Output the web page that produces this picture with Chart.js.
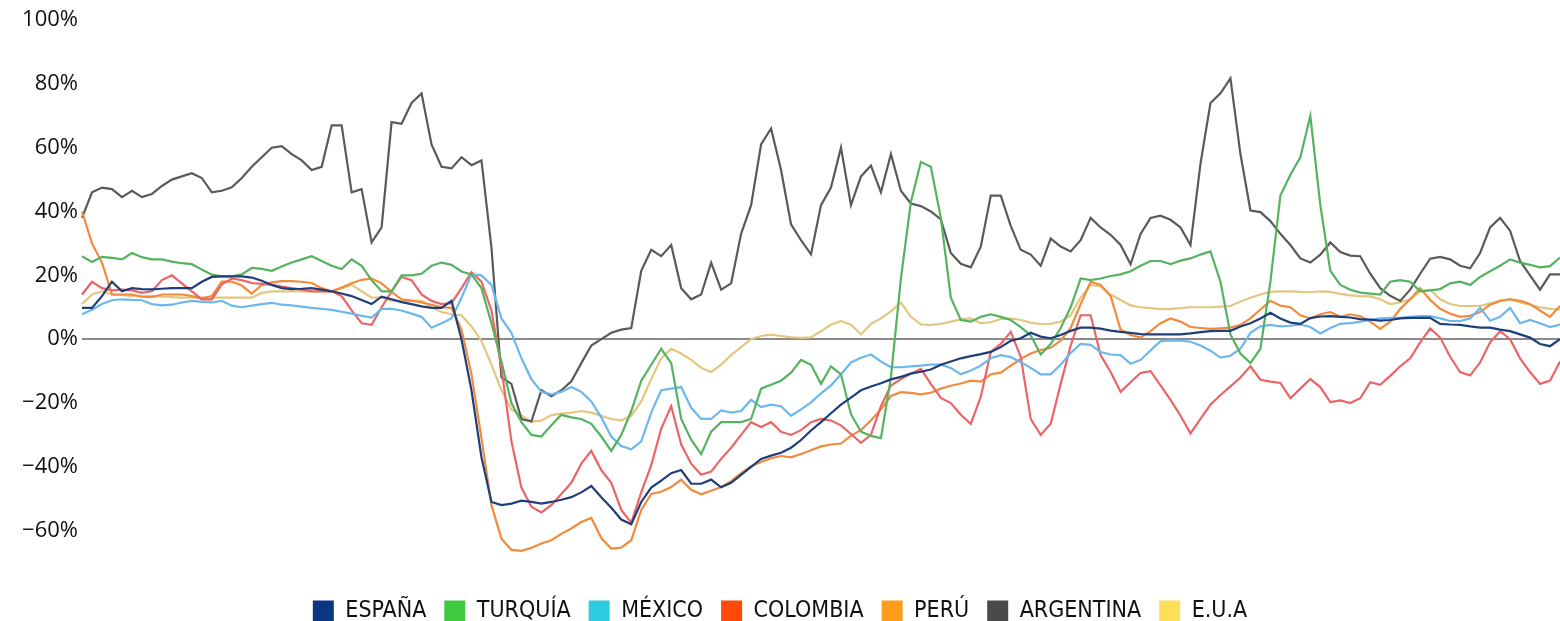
<!DOCTYPE html>
<html>
<head>
<meta charset="utf-8">
<script src="https://cdn.jsdelivr.net/npm/chart.js@4/dist/chart.umd.min.js"></script>
<style>
  body { margin: 0; background: #fff; overflow: hidden; }
  #wrap { width: 1560px; height: 633px; position: relative; }
</style>
</head>
<body>
<div id="wrap"><canvas id="chart"></canvas></div>
<script>
// series names, in legend order
const countries = ['ESPAÑA', 'TURQUÍA', 'MÉXICO', 'COLOMBIA', 'PERÚ', 'ARGENTINA', 'E.U.A'];

// y axis tick values (%)
const yTicks = [-60, -40, -20, 0, 20, 40, 60, 80, 100];

// values, one point per ~10px step
const espana = [
  9.8, 9.8, 13.5, 18, 15, 16, 15.7, 15.6, 15.8, 16,
  16, 16, 18, 19.5, 19.7, 19.7, 19.7, 19.3, 18.3, 17,
  16, 15.7, 15.8, 16, 15.5, 15, 14.3, 13.5, 12.3, 11,
  13.3, 12.5, 11.6, 11, 10.3, 9.8, 9.8, 12, 0, -16,
  -37, -51, -52, -51.5, -50.6, -51, -51.5, -51, -50.3, -49.5,
  -48, -46, -49.5, -52.8, -56.5, -58, -51, -46.5, -44.3, -42,
  -41, -45.3, -45.3, -44, -46.4, -45, -42.5, -40, -37.5, -36.5,
  -35.6, -34, -31.6, -28.6, -26, -23.2, -20.5, -18.3, -16, -14.8,
  -13.8, -12.6, -11.8, -10.8, -10.2, -9.5, -8, -7, -6, -5.3,
  -4.7, -4, -2.5, -0.5, 0.3, 2, 0.8, 0.3, 1.3, 2.6,
  3.6, 3.6, 3.3, 2.7, 2.3, 2, 1.6, 1.5, 1.5, 1.5,
  1.5, 1.8, 2.2, 2.5, 2.6, 2.6, 4, 5, 6.5, 8.3,
  6.5, 5.2, 4.8, 6.6, 7.1, 7.2, 7, 6.8, 6.3, 6.1,
  5.8, 6, 6.5, 6.7, 6.7, 6.7, 4.8, 4.6, 4.5, 4,
  3.6, 3.6, 3, 2.5, 1.5, 0.5, -1.5, -2.2, 0
];

const turquia = [
  26, 24.2, 25.8, 25.5, 25, 27, 25.7, 25, 25, 24.3,
  23.8, 23.5, 21.8, 20.2, 19.7, 19.7, 20.3, 22.3, 22, 21.4,
  22.8, 24, 25, 26, 24.5, 23, 22, 25, 23, 18.5,
  15, 15, 20, 20, 20.5, 23, 24, 23.3, 21.2, 20.3,
  16, 5, -7, -20, -26, -30, -30.5, -27, -23.7, -24.5,
  -25, -26.5, -30.5, -35, -30, -22.5, -13, -8, -3, -7.5,
  -25, -31.5, -36, -29, -26, -26, -26, -25, -15.5, -14.3,
  -13, -10.5, -6.5, -8, -14, -8.5, -11, -23.5, -29, -30.3,
  -31, -12, 19, 43, 55.5, 54, 38, 13, 6, 5.5,
  7, 7.8, 7, 6, 3.8, 1.2, -4.8, -1.5, 3.5, 10,
  19, 18.5, 19, 19.8, 20.3, 21.3, 23, 24.5, 24.5, 23.5,
  24.6, 25.3, 26.5, 27.5, 18, 1.5, -4.5, -7.5, -3, 18,
  45, 51.5, 57, 70, 42, 21.4, 17, 15.5, 14.6, 14.3,
  14, 18, 18.5, 18, 15, 15.3, 15.7, 17.5, 18, 17,
  19.5, 21.3, 23, 25, 24, 23.3, 22.5, 22.9, 25.6
];

const mexico = [
  7.8, 9.2, 11, 12.2, 12.5, 12.3, 12.2, 11, 10.6, 10.8,
  11.5, 12, 11.7, 11.5, 12, 10.5, 10, 10.5, 11, 11.4,
  10.8, 10.6, 10.2, 9.8, 9.5, 9.2, 8.6, 8, 7.3, 6.8,
  9.5, 9.5, 9, 8, 7, 3.6, 5, 6.5, 13, 20.3,
  20, 17, 6.5, 2, -6, -12.5, -16.5, -17.3, -16.5, -15,
  -16.5, -19.5, -24.5, -30.5, -33.5, -34.5, -32, -23, -16, -15.5,
  -15, -21.5, -25, -25, -22.3, -23, -22.5, -19, -21.3, -20.5,
  -21, -24, -22, -19.8, -17, -14.5, -11, -7.3, -5.8, -4.8,
  -7, -8.8, -8.8, -8.5, -8.3, -8, -8, -9, -11, -9.8,
  -8.3, -6, -5, -5.6, -7.2, -9, -11, -11, -8, -4.3,
  -1.5, -1.8, -4, -4.8, -5, -7.7, -6.5, -3.5, -0.6, -0.4,
  -0.5, -0.8, -2, -3.6, -5.8, -5.2, -3, 2, 4, 4.5,
  4, 4.2, 4.6, 3.8, 1.8, 3.5, 4.8, 5, 5.5, 6,
  6.5, 6.7, 6.7, 7, 7.2, 7.2, 6.5, 5.7, 5.7, 6.5,
  9.8, 5.8, 7, 9.8, 5, 6, 5, 3.8, 4.6
];

const colombia = [
  14, 18, 16, 15.3, 15.5, 15.3, 14.5, 15, 18.5, 20,
  17.5, 15, 12.5, 12.5, 17.2, 19, 18.5, 17.6, 17.3, 17,
  16.5, 16, 15.5, 15, 15, 15, 13.5, 9, 5, 4.5,
  10, 15, 19.5, 18.5, 14, 12, 11, 11.3, 16, 21,
  18, 9, -9, -32, -46.5, -52.5, -54.3, -52, -48.5, -45,
  -39, -35, -41, -45, -53.5, -57.5, -48, -39.5, -28, -21,
  -33, -39, -42.5, -41.5, -37.5, -34, -30, -26, -27.5, -26,
  -29, -30, -28.5, -26, -25, -25.5, -27, -29.7, -32.5, -30,
  -21, -14.5, -12.5, -10.8, -9.3, -14, -18.4, -20, -23.7, -26.5,
  -18, -4, -1.5, 2.3, -5.5, -25, -30, -26.5, -14, -2,
  7.5, 7.5, -5, -10.3, -16.5, -13.5, -10.6, -10, -14.5, -19,
  -24, -29.5, -25, -20.5, -17.5, -14.8, -12, -8.5, -12.7, -13.3,
  -13.7, -18.5, -15.5, -12.5, -15, -19.7, -19.2, -20, -18.5, -13.5,
  -14.3, -11.5, -8.5, -6, -1, 3.4, 0.5, -5.5, -10.3, -11.4,
  -7.3, -1, 2.5, 0, -6, -10.3, -14, -13, -7
];

const peru = [
  40, 30, 24, 14, 14, 14, 13.3, 13.2, 14, 14,
  14, 13.5, 12.8, 13.5, 18, 18, 16.8, 14.3, 17, 17.8,
  18.2, 18.2, 18, 17.6, 16, 15, 16.2, 17.5, 18.6, 19,
  17.5, 14.8, 12.5, 12.1, 11.5, 10.8, 10, 9.8, 3, -11,
  -31, -52, -62.5, -66, -66.3, -65.4, -64, -63, -61, -59.3,
  -57.3, -56, -62.3, -65.6, -65.3, -63, -53.5, -48.5, -47.8, -46.3,
  -44, -47.2, -48.6, -47.5, -46.3, -44.5, -42, -39.8, -38.5, -37.3,
  -36.6, -37, -36, -34.8, -33.6, -33, -32.7, -30.2, -28.5, -25.5,
  -22, -17.8, -16.6, -16.8, -17.3, -16.8, -15.5, -14.6, -13.9, -13,
  -13.3, -11, -10.5, -8.3, -6.2, -4.5, -3.4, -2.7, -0.5, 3.5,
  11, 18, 17, 13.5, 3, 1.3, 0.5, 2.5, 5, 6.5,
  5.5, 3.8, 3.5, 3.2, 3.4, 3.6, 4.5, 6.5, 9.3, 12,
  10.5, 10, 7.5, 6.5, 7.8, 8.5, 7, 7.8, 7.2, 5.5,
  3.2, 5.5, 9.5, 12.5, 16, 12.3, 9.5, 8, 7, 7.3,
  8.5, 10.8, 12, 12.5, 12, 11, 9, 7, 10.4
];

const argentina = [
  38, 46, 47.5, 47, 44.5, 46.5, 44.5, 45.5, 48, 50,
  51, 52, 50.5, 46, 46.5, 47.6, 50.5, 54, 57, 60,
  60.5, 58, 56, 53, 54, 67, 67, 46, 47, 30.3,
  35, 68, 67.5, 74, 77, 61, 54, 53.5, 57, 54.5,
  56, 28.7, -12, -14, -25, -25.8, -16, -17.9, -16, -13.2,
  -7.5, -2, 0, 2, 3, 3.5, 21.4, 28, 26, 29.5,
  16, 12.5, 14, 24, 15.5, 17.5, 33, 42, 61, 66,
  53, 36, 31, 26.6, 42, 47.5, 60, 42, 51, 54.4,
  46, 58, 46.5, 42.5, 41.7, 40, 37.5, 27, 23.6, 22.5,
  29, 45, 45, 35.5, 28, 26.5, 23, 31.5, 29, 27.5,
  31, 38, 35, 32.7, 29.5, 23.5, 33, 38, 38.7, 37.4,
  35, 29.5, 55, 74, 77, 81.7, 58, 40.3, 39.8, 37,
  33, 29.5, 25.3, 24, 26.5, 30.3, 27.3, 26.2, 26, 20.5,
  16, 13.6, 12, 15.5, 20.5, 25.2, 25.8, 25, 23, 22.2,
  27, 35, 38, 34, 24.5, 20, 15.5, 20.3, 20.3
];

const eua = [
  11, 14, 15, 14, 13.8, 13.5, 13.5, 13.5, 13.3, 13.2,
  13, 13, 13, 13, 13, 13, 13, 13, 14.5, 15,
  15, 15, 15, 15, 15, 15, 16, 17, 15, 13,
  13, 12, 12, 12, 12, 10, 8.5, 7.8, 7.5, 4,
  -0.5, -8, -16, -22, -24, -25.8, -25.5, -23.8, -23.3, -23,
  -22.5, -23, -24, -25, -25.5, -24, -19.5, -12.5, -6, -3,
  -4.5, -6.5, -9, -10.3, -8, -5, -2.5, 0, 1, 1.4,
  1, 0.6, 0.4, 0.6, 2.5, 4.5, 5.7, 4.5, 1.5, 4.8,
  6.5, 8.7, 11.5, 7, 4.6, 4.5, 4.8, 5.5, 6.2, 6.5,
  5, 5.3, 6.3, 6.5, 6, 5.2, 4.7, 4.8, 5.5, 7.5,
  13, 17, 16.5, 14, 12.3, 10.6, 10, 9.7, 9.4, 9.5,
  9.7, 10, 10, 10, 10.2, 10.4, 11.8, 13, 14, 14.8,
  15, 15, 14.8, 14.7, 15, 14.8, 14.2, 13.7, 13.5, 13.4,
  12.5, 11, 11.5, 12.5, 15, 15.5, 12.5, 11, 10.4, 10.4,
  10.4, 11.2, 12, 12.5, 11.5, 10.8, 10, 9.5, 9.3
];

const series = [espana, turquia, mexico, colombia, peru, argentina, eua];
series.forEach((s, i) => {
  if (s.length !== espana.length) throw new Error(countries[i] + ' has ' + s.length + ' points, expected ' + espana.length);
});

// x positions are just the sample number, the axis is hidden
const steps = espana.map((_, i) => i + 1);

const lineColors = ['#1f3e7a', '#55b25f', '#6cb8ee', '#ec6466', '#f28a3c', '#5a5a5a', '#e3c680'];
const boxColors = ['#0b3680', '#3ec93e', '#2ccbe0', '#ff4a0a', '#ff9b1a', '#4a4a4a', '#ffde5a'];

const datasets = countries.map((name, i) => ({
  label: name,
  data: series[i],
  borderColor: lineColors[i],
  backgroundColor: boxColors[i],
  borderWidth: 2.2,
  pointRadius: 0,
  tension: 0,
  fill: false
}));

const ctx = document.getElementById('chart').getContext('2d');
new Chart(ctx, {
  type: 'line',
  data: { labels: steps, datasets: datasets },
  options: {
    responsive: true,
    maintainAspectRatio: false,
    animation: false,
    layout: { padding: { top: 20, right: 0, bottom: 0, left: 0 } },
    plugins: {
      tooltip: { enabled: false },
      legend: {
        position: 'bottom',
        // blank title only pushes the legend row down to where it sits in the picture
        title: { display: true, text: ' ', font: { size: 12 }, padding: { top: 3, bottom: 2 } },
        labels: {
          boxWidth: 21,
          boxHeight: 22,
          padding: 18,
          color: '#111',
          font: { family: "'Liberation Sans Narrow', 'DejaVu Sans Condensed', 'Roboto', sans-serif", size: 23 },
          generateLabels: chart => chart.data.datasets.map((ds, i) => ({
            text: ds.label,
            fillStyle: ds.backgroundColor,
            strokeStyle: ds.backgroundColor,
            fontColor: '#111',
            lineWidth: 0,
            hidden: false,
            datasetIndex: i
          }))
        }
      }
    },
    scales: {
      x: { display: false },
      y: {
        min: -70,
        max: 100,
        afterBuildTicks: scale => { scale.ticks = yTicks.map(v => ({ value: v })); },
        afterFit: scale => { scale.width = 82; },
        border: { display: false },
        grid: {
          drawTicks: false,
          lineWidth: 2,
          color: c => (c.tick && c.tick.value === 0) ? '#8a8a8a' : 'rgba(0,0,0,0)'
        },
        ticks: {
          padding: 4,
          color: '#111',
          font: { family: "'Open Sans', sans-serif", size: 22 },
          callback: v => (v < 0 ? '\u2212' + Math.abs(v) : v) + '%'
        }
      }
    }
  }
});
</script>
</body>
</html>
